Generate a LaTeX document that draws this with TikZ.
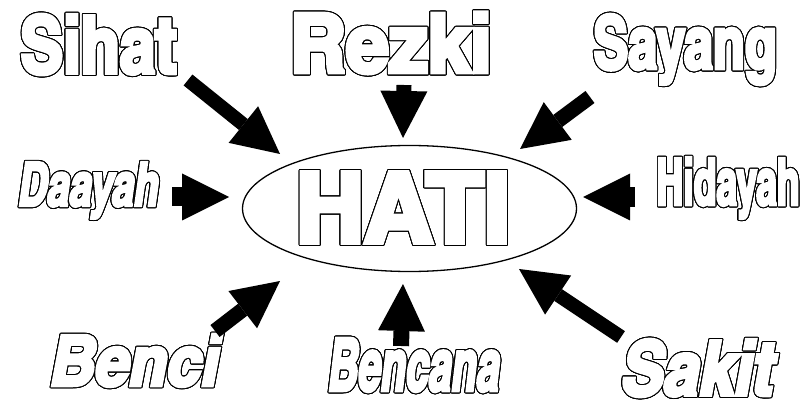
\documentclass[tikz,border=0pt]{standalone}
\usepackage{fontspec}
\usepackage{graphicx}
\usepackage[copies]{contour}
\usetikzlibrary{arrows.meta,shapes.geometric}
\newfontfamily\cnfont[Extension=.otf,UprightFont=*-bold,ItalicFont=*-bolditalic,BoldFont=*-bold,BoldItalicFont=*-bolditalic,FakeBold=5]{texgyreheroscn}
\contourlength{1.0pt}
\contournumber{24}
\newcommand\outword[3]{\contour{black}{\resizebox*{#1pt}{#2pt}{\cnfont #3}}}
\newcommand\outwordit[3]{\contour{black}{\resizebox*{#1pt}{#2pt}{\cnfont\itshape #3}}}
\tikzset{
  word/.style={inner sep=0pt, outer sep=0pt, text=white},
  fatarrow/.style={draw=black, line width=#1, -{Triangle[length=47pt,width=47pt,line width=0pt]}},
  fatarrow/.default=15pt
}
\begin{document}
\begin{tikzpicture}[x=1pt,y=-1pt]
\useasboundingbox (0,0) rectangle (808,403);
\fill[white] (0,0) rectangle (808,403);
% centre
\node[draw, ellipse, line width=1.3pt, minimum width=334pt, minimum height=126pt, inner sep=0pt] (hati) at (409.5,208.5) {};
\node[word] (hatitxt) at (403,208) {\outword{214}{70}{HATI}};
% words
\node[word] (sihat) at (98.5,45) {\outword{156}{60}{Sihat}};
\node[word] (rezki) at (391,43.5) {\outword{201}{61}{Rezki}};
\node[word] (sayang) at (685,50) {\outword{183}{70}{Sayang}};
\node[word] (daayah) at (88.5,191) {\outwordit{140}{56}{Daayah}};
\node[word] (hidayah) at (728,188.5) {\outword{143}{61}{Hidayah}};
\node[word] (benci) at (134.5,361) {\outwordit{168}{52}{Benci}};
\node[word] (bencana) at (414,365.5) {\outwordit{171}{53}{Bencana}};
\node[word] (sakit) at (697.5,368.5) {\outwordit{152}{57}{Sakit}};
% arrow ends
\coordinate (t1) at (188,80);   \coordinate (h1) at (280,154);
\coordinate (t2) at (404,85);   \coordinate (h2) at (403,138);
\coordinate (t3) at (590,97);   \coordinate (h3) at (520,149);
\coordinate (t4) at (172,197);  \coordinate (h4) at (229,197);
\coordinate (t5) at (635,197);  \coordinate (h5) at (583,197);
\coordinate (t6) at (215,331);  \coordinate (h6) at (280,281);
\coordinate (t7) at (401,346);  \coordinate (h7) at (403,284);
\coordinate (t8) at (621,337);  \coordinate (h8) at (519,269);
\draw[fatarrow=14pt] (t1) -- (h1);
\draw[fatarrow=15pt] (t2) -- (h2);
\draw[fatarrow=15pt] (t3) -- (h3);
\draw[fatarrow=19pt] (t4) -- (h4);
\draw[fatarrow=20pt] (t5) -- (h5);
\draw[fatarrow=15pt] (t6) -- (h6);
\draw[fatarrow=16pt] (t7) -- (h7);
\draw[fatarrow=14pt] (t8) -- (h8);
\end{tikzpicture}
\end{document}
